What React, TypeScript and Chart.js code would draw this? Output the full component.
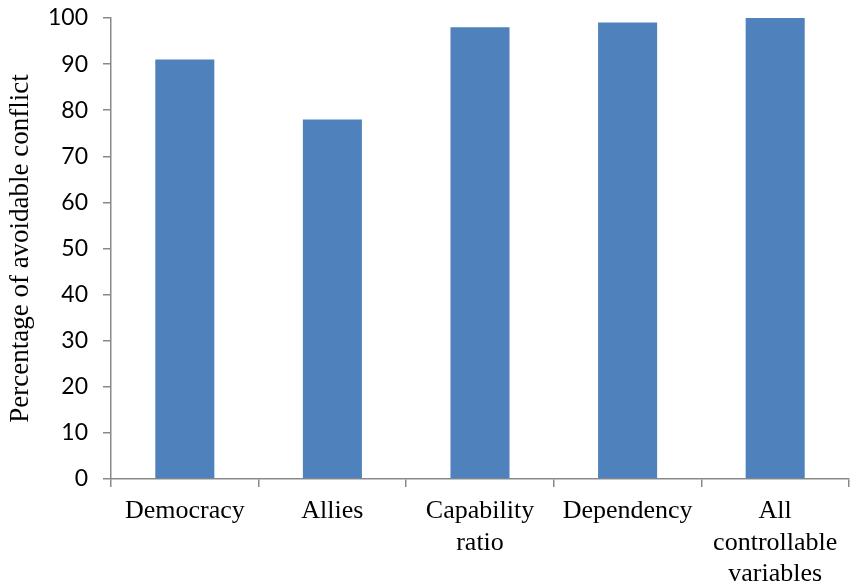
import React, { useEffect, useRef } from "react";
import { Chart, registerables } from "chart.js";

Chart.register(...registerables);

const categories: (string | string[])[] = [
  "Democracy",
  "Allies",
  ["Capability", "ratio"],
  "Dependency",
  ["All", "controllable", "variables"],
];
const values: number[] = [91, 78, 98, 99, 100];
const yTitle = "Percentage of avoidable conflict";

export default function App() {
  const ref = useRef<HTMLCanvasElement>(null);

  useEffect(() => {
    document.body.style.margin = "0";
    const ctx = ref.current!;
    const axisColor = "#898989";
    const chart = new Chart(ctx, {
      type: "bar",
      data: {
        labels: categories,
        datasets: [
          {
            data: values,
            backgroundColor: "#4F81BD",
            borderWidth: 0,
            categoryPercentage: 1,
            barPercentage: 0.4,
          },
        ],
      },
      options: {
        animation: false,
        responsive: false,
        devicePixelRatio: 1,
        layout: { padding: { top: 18, right: 1, left: 0, bottom: 0 } },
        plugins: { legend: { display: false }, tooltip: { enabled: false } },
        scales: {
          x: {
            offset: true,
            grid: {
              offset: true,
              drawOnChartArea: false,
              tickLength: 8,
              color: axisColor,
              lineWidth: 1.5,
            },
            border: { color: axisColor, width: 1.5 },
            ticks: {
              color: "#000",
              padding: 9,
              maxRotation: 0,
              autoSkip: false,
              font: { family: "'Liberation Serif', 'Times New Roman', serif", size: 26, lineHeight: 1.2 },
            },
            afterFit: (s: any) => {
              s.height = 588 - 479;
              s.paddingLeft = 0;
              s.paddingRight = 0;
            },
          },
          y: {
            min: 0,
            max: 100,
            ticks: {
              stepSize: 10,
              color: "#000",
              padding: 15,
              font: { family: "Lato, 'Noto Sans', sans-serif", size: 23 },
            },
            grid: {
              drawOnChartArea: false,
              tickLength: 8,
              color: axisColor,
              lineWidth: 1.5,
            },
            border: { color: axisColor, width: 1.5 },
            title: {
              display: true,
              text: yTitle,
              color: "#000",
              padding: { top: 5, bottom: 0 },
              font: { family: "'Liberation Serif', 'Times New Roman', serif", size: 27, lineHeight: 1.2 },
            },
            afterFit: (s: any) => {
              s.width = 111;
              s.paddingTop = 0;
              s.paddingBottom = 0;
            },
          },
        },
      },
    });
    return () => chart.destroy();
  }, []);

  return (
    <div style={{ width: 850, height: 588 }}>
      <canvas ref={ref} width={850} height={588} />
    </div>
  );
}
